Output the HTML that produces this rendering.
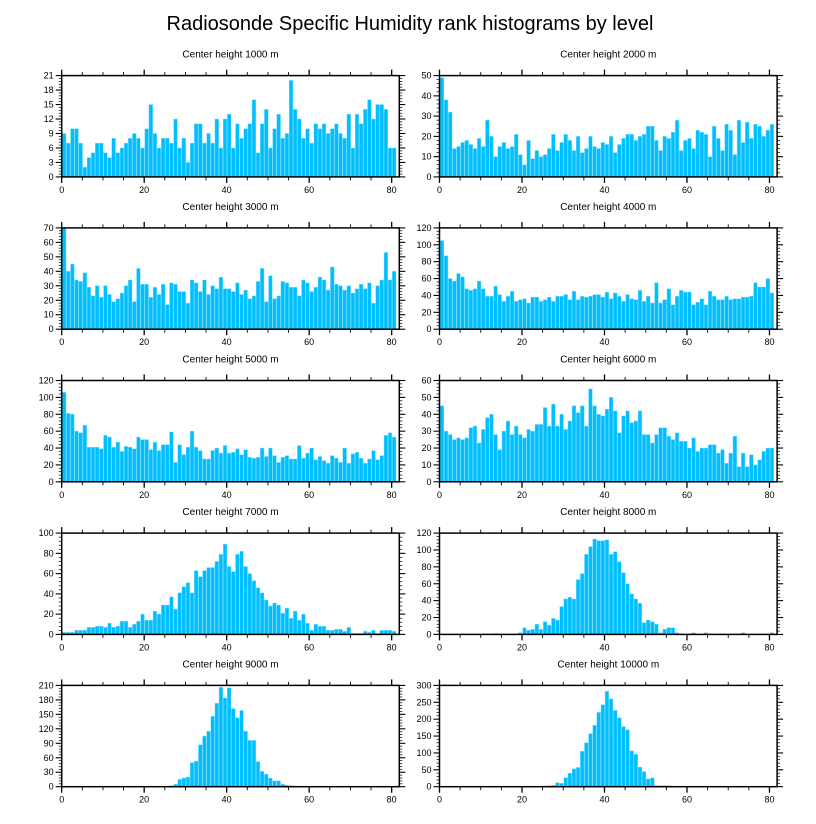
<!DOCTYPE html>
<html><head><meta charset="utf-8"><style>
body{margin:0;background:#fff;}
svg{display:block;font-family:"Liberation Sans",sans-serif;}
</style></head><body>
<svg id="chart" width="816" height="824" viewBox="0 0 816 824" xmlns="http://www.w3.org/2000/svg">
<rect width="816" height="824" fill="#fff"/>
<text x="410" y="30" font-size="20" text-anchor="middle">Radiosonde Specific Humidity rank histograms by level</text>
</svg>
<script>
const titles=["Center height 1000 m","Center height 2000 m","Center height 3000 m","Center height 4000 m","Center height 5000 m","Center height 6000 m","Center height 7000 m","Center height 8000 m","Center height 9000 m","Center height 10000 m"];
const yMax=[21,50,70,120,120,60,100,120,210,300];
const yStep=[3,10,10,20,20,10,20,20,30,50];
const xTicks=[0,20,40,60,80];
const h1000=[9,7,10,10,7,2,4,5,7,7,5,4,8,5,6,7,8,9,8,6,10,15,9,6,8,8,7,12,6,8,3,7,11,11,7,9,7,12,6,12,13,6,11,8,10,11,16,5,11,14,6,10,13,8,9,20,14,12,8,10,7,11,10,11,9,10,11,9,8,13,6,13,11,14,16,12,15,15,14,6,6];
const h2000=[49,38,32,14,15,17,18,16,14,19,15,28,20,10,15,17,14,15,21,11,6,18,9,13,10,11,14,21,13,17,21,18,13,20,12,14,20,15,14,17,16,20,12,16,19,21,21,18,20,21,25,25,18,13,20,19,22,28,13,18,19,14,23,22,21,10,25,19,13,26,23,11,28,17,27,19,26,25,20,23,26];
const h3000=[70,40,45,34,33,39,29,23,30,22,30,24,19,21,25,30,34,19,42,31,31,22,29,24,31,17,32,31,26,26,18,34,32,26,34,24,30,28,36,28,28,26,32,24,27,21,23,33,42,19,37,21,23,33,32,29,29,23,34,32,26,29,36,34,27,43,31,30,27,30,25,28,31,28,32,18,30,34,53,34,40];
const h4000=[105,87,60,57,66,62,48,46,48,57,48,39,39,51,41,33,39,45,33,35,36,31,38,38,33,35,38,33,39,39,41,35,45,35,39,38,39,41,41,38,44,36,43,39,33,41,36,35,46,33,39,31,55,31,35,48,29,39,46,44,44,29,32,36,29,45,39,35,35,39,35,36,36,38,38,39,55,50,50,60,43];
const h5000=[106,81,80,60,58,67,41,41,41,39,55,53,41,47,36,42,41,39,53,50,50,38,47,37,44,44,59,23,44,32,41,60,41,37,27,27,37,40,34,43,34,35,39,32,38,29,28,29,40,30,40,31,23,29,31,27,27,43,28,34,40,26,30,25,22,31,28,23,40,22,33,35,28,22,27,37,26,31,55,58,53];
const h6000=[45,30,28,25,26,25,26,32,33,23,31,38,40,28,19,30,36,28,33,28,26,31,30,34,34,44,33,46,33,40,31,36,45,41,45,33,55,45,40,39,43,50,42,29,39,42,35,36,42,28,28,23,28,32,32,27,25,29,24,24,20,26,18,20,20,22,22,17,19,11,17,27,9,17,9,16,10,13,18,20,20];
const h7000=[2,2,2,4,4,4,7,7,8,8,7,11,7,8,13,13,7,10,13,20,14,14,23,20,29,29,37,25,41,47,51,41,63,57,63,66,66,72,79,89,67,62,79,82,67,60,53,46,41,34,28,31,29,21,26,16,23,14,20,11,4,10,8,8,4,4,5,5,3,7,1,1,1,3,2,4,1,4,4,4,3];
const h8000=[0,0,0,0,0,0,0,0,0,0,0,0,0,1,0,0,0,0,0,2,8,5,6,12,6,15,11,19,17,33,42,44,42,65,72,95,104,113,111,111,112,95,98,86,73,60,48,42,37,14,17,15,12,2,6,8,8,2,0,0,0,2,0,0,2,0,0,0,0,0,0,0,0,2,0,0,0,0,0,0,2];
const h9000=[0,0,0,0,0,0,0,0,0,0,0,0,0,0,0,0,0,0,0,0,0,0,0,0,0,1,2,5,15,18,20,50,53,87,105,115,146,173,206,184,205,162,143,158,115,96,96,52,32,26,18,12,12,5,3,2,1,0,1,0,0,0,0,0,0,0,0,0,0,0,0,0,0,0,0,0,0,0,0,0,0];
const h10000=[0,0,0,0,0,0,0,0,0,0,0,0,0,0,0,0,0,0,0,0,0,0,0,0,0,2,3,4,12,10,27,40,53,57,105,130,157,182,220,243,283,260,226,204,178,169,106,96,58,45,23,26,3,3,3,3,0,0,0,0,0,0,0,0,0,0,0,0,0,0,0,0,0,0,0,0,0,0,0,0,0];
const series=[h1000,h2000,h3000,h4000,h5000,h6000,h7000,h8000,h9000,h10000];

const NS="http://www.w3.org/2000/svg";
const svg=document.getElementById('chart');
function mk(tag,attrs,parent){const e=document.createElementNS(NS,tag);for(const k in attrs)e.setAttribute(k,attrs[k]);(parent||svg).appendChild(e);return e;}
const lefts=[61.7,439.5], tops=[75.6,227.9,380.5,533.1,685.4], W=337.6, H=101.3, XMAX=81.85;
for(let p=0;p<10;p++){
  const L=lefts[p%2], T=tops[Math.floor(p/2)], B=T+H, R=L+W;
  const xs=v=>L+v/XMAX*W, ys=v=>B-Math.min(v,yMax[p])/yMax[p]*H;
  const g=mk('g',{});
  
  
  const t=mk('text',{x:(L+R)/2,y:T-18,'font-size':10,'text-anchor':'middle'},g);
  
  
  t.textContent=titles[p];
  const data=series[p];
  for(let i=0;i<data.length;i++){
    if(data[i]<=0)continue;
    const r=mk('rect',{x:xs(i+0.15),y:ys(data[i]),width:xs(0.9)-xs(0),height:B-ys(data[i]),fill:'#00bfff',stroke:'#7fdcff','stroke-width':0.4},g);
    
    
  }
  // x ticks
  for(let v=0;v<=80;v+=5){
    const major=xTicks.includes(v), len=major?6:3.5, x=xs(v);
    mk('line',{x1:x,x2:x,y1:B,y2:B+len,stroke:'#000','stroke-width':major?1.3:0.9},g);
    mk('line',{x1:x,x2:x,y1:T,y2:T-len,stroke:'#000','stroke-width':major?1.3:0.9},g);
  }
  for(const v of xTicks){
    const l=mk('text',{x:xs(v),y:B+16,'font-size':9,'text-anchor':'middle'},g);
    
    
    l.textContent=v;
  }
  // y ticks
  const minor=yStep[p]/5;
  for(let k=0;k*minor<=yMax[p]+1e-9;k++){
    const v=k*minor, y=ys(v), major=k%5===0, len=major?6:3;
    mk('line',{x1:L,x2:L-len,y1:y,y2:y,stroke:'#000','stroke-width':major?1.1:0.7},g);
    mk('line',{x1:R,x2:R+len,y1:y,y2:y,stroke:'#000','stroke-width':major?1.1:0.7},g);
    if(major){
      const l=mk('text',{x:L-8,y:y+3,'font-size':9,'text-anchor':'end'},g);
      
      
      l.textContent=v;
    }
  }
  const fr=mk('rect',{x:L,y:T,width:W,height:H,fill:'none',stroke:'#000','stroke-width':1.5},g);
  
  
}
</script>
</body></html>
